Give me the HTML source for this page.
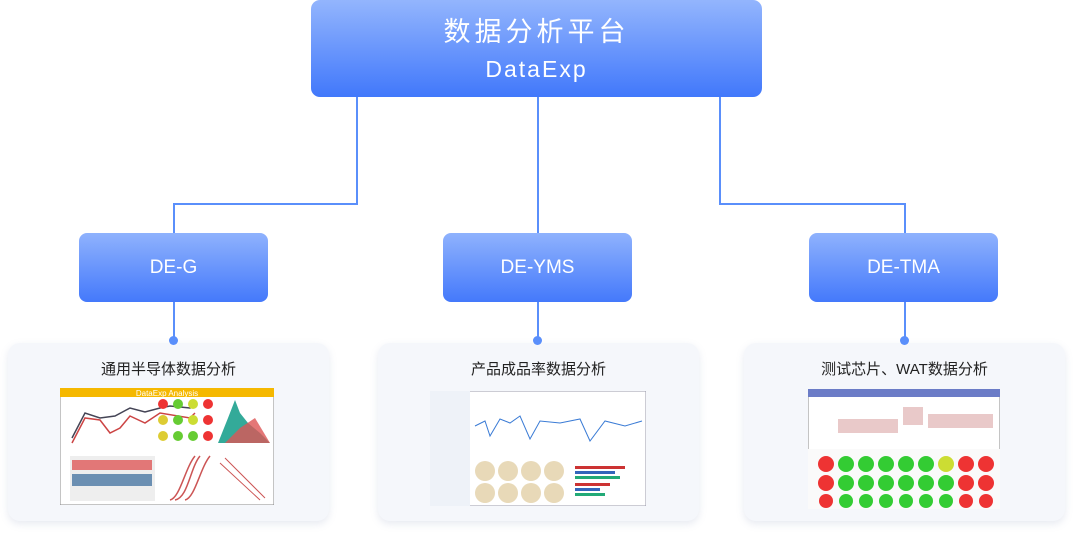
<!DOCTYPE html>
<html><head><meta charset="utf-8"><style>
body{margin:0;width:1073px;height:534px;background:#fff;position:relative;overflow:hidden;font-family:"Liberation Sans","Noto Sans CJK SC",sans-serif}
.top{position:absolute;left:311px;top:0;width:451px;height:97px;border-radius:9px;background:linear-gradient(#93b5fd,#4178fb);color:#fff;text-align:center}
.top .a{font-size:27px;letter-spacing:4px;margin-top:15px;line-height:34px}
.top .b{font-size:23px;letter-spacing:2px;margin-top:6px;line-height:28px}
.ln{position:absolute;background:#5a8ffb}
.sub{position:absolute;top:233px;width:189px;height:69px;border-radius:8px;background:linear-gradient(#8fb2fd,#4479fb);color:#fff;font-size:19px;line-height:69px;text-align:center}
.dot{position:absolute;width:9px;height:9px;border-radius:50%;background:#5a8ffb;top:336px}
.card{position:absolute;top:343px;width:321px;height:178px;border-radius:12px;background:#f5f7fb;box-shadow:0 3px 8px rgba(120,140,180,.18)}
.card .t{text-align:center;font-size:15px;color:#222;margin-top:17px;line-height:20px}
.img{position:absolute}
</style></head><body>
<div class="top"><div class="a">数据分析平台</div><div class="b">DataExp</div></div>
<div class="ln" style="left:356px;top:97px;width:2px;height:108px"></div>
<div class="ln" style="left:173px;top:203px;width:185px;height:2px"></div>
<div class="ln" style="left:173px;top:203px;width:2px;height:30px"></div>
<div class="ln" style="left:537px;top:97px;width:2px;height:136px"></div>
<div class="ln" style="left:719px;top:97px;width:2px;height:108px"></div>
<div class="ln" style="left:719px;top:203px;width:187px;height:2px"></div>
<div class="ln" style="left:904px;top:203px;width:2px;height:30px"></div>
<div class="sub" style="left:79px">DE-G</div>
<div class="sub" style="left:443px">DE-YMS</div>
<div class="sub" style="left:809px">DE-TMA</div>
<div class="ln" style="left:173px;top:302px;width:2px;height:36px"></div>
<div class="ln" style="left:537px;top:302px;width:2px;height:36px"></div>
<div class="ln" style="left:904px;top:302px;width:2px;height:36px"></div>
<div class="card" style="left:8px"><div class="t">通用半导体数据分析</div></div>
<div class="card" style="left:378px"><div class="t">产品成品率数据分析</div></div>
<div class="card" style="left:744px"><div class="t">测试芯片、WAT数据分析</div></div>
<div class="dot" style="left:169px"></div><div class="dot" style="left:533px"></div><div class="dot" style="left:900px"></div>
<svg class="img" style="left:60px;top:388px" width="214" height="117">
<rect width="214" height="117" fill="#fff" stroke="#888"/><rect width="214" height="9" fill="#f5b800"/>
<text x="107" y="8" font-size="8" fill="#fff" text-anchor="middle" font-family="Liberation Sans">DataExp Analysis</text>
<polyline points="12,50 25,25 40,30 55,28 70,20 85,24 100,20 110,18 130,20 135,18" fill="none" stroke="#445" stroke-width="1.5"/>
<polyline points="12,55 25,30 40,32 50,45 60,40 70,28 85,35 100,25 130,30 135,25" fill="none" stroke="#c44" stroke-width="1.5"/>
<g fill="#6c3"><circle cx="103" cy="16" r="5" fill="#e33"/><circle cx="118" cy="16" r="5"/><circle cx="133" cy="16" r="5" fill="#cd3"/><circle cx="148" cy="16" r="5" fill="#e33"/>
<circle cx="103" cy="32" r="5" fill="#dc3"/><circle cx="118" cy="32" r="5"/><circle cx="133" cy="32" r="5" fill="#cd3"/><circle cx="148" cy="32" r="5" fill="#e33"/>
<circle cx="103" cy="48" r="5" fill="#dc3"/><circle cx="118" cy="48" r="5"/><circle cx="133" cy="48" r="5"/><circle cx="148" cy="48" r="5" fill="#e33"/></g>
<polygon points="158,55 168,30 175,12 180,25 188,35 200,45 210,55" fill="#3a9"/>
<polygon points="165,55 180,40 195,30 210,55" fill="#d55" opacity=".8"/>
<rect x="10" y="68" width="85" height="45" fill="#eee"/><rect x="12" y="72" width="80" height="10" fill="#d44" opacity=".7"/><rect x="12" y="86" width="80" height="12" fill="#369" opacity=".7"/>
<path d="M110,112 C120,110 125,80 135,68 M115,112 C128,110 130,80 140,68 M125,112 C135,110 140,80 150,68" fill="none" stroke="#c55" stroke-width="1.5"/>
<path d="M165,70 L205,110 M160,75 L200,112" stroke="#c55"/>
</svg>
<svg class="img" style="left:430px;top:391px" width="216" height="115">
<rect width="216" height="115" fill="#fff" stroke="#99a"/><rect width="40" height="115" fill="#eef2f8"/>
<polyline points="45,35 55,30 60,45 70,28 80,32 90,25 100,48 110,30 130,32 150,28 160,50 175,30 195,35 212,30" fill="none" stroke="#3a7bd5"/>
<g fill="#e8d9b8"><circle cx="55" cy="80" r="10"/><circle cx="78" cy="80" r="10"/><circle cx="101" cy="80" r="10"/><circle cx="124" cy="80" r="10"/><circle cx="55" cy="102" r="10"/><circle cx="78" cy="102" r="10"/><circle cx="101" cy="102" r="10"/><circle cx="124" cy="102" r="10"/></g>
<g><rect x="145" y="75" width="50" height="3" fill="#c33"/><rect x="145" y="80" width="40" height="3" fill="#36b"/><rect x="145" y="85" width="45" height="3" fill="#2a7"/><rect x="145" y="92" width="35" height="3" fill="#c33"/><rect x="145" y="97" width="25" height="3" fill="#36b"/><rect x="145" y="102" width="30" height="3" fill="#2a7"/></g>
</svg>
<svg class="img" style="left:808px;top:389px" width="192" height="120">
<rect width="192" height="120" fill="#fff" stroke="#888"/><rect width="192" height="8" fill="#6b7cc7"/>
<g fill="#e9c9c9"><rect x="30" y="30" width="60" height="14"/><rect x="95" y="18" width="20" height="18"/><rect x="120" y="25" width="65" height="14"/></g>
<rect y="60" width="192" height="60" fill="#fafafa"/>
<g fill="#3c3"><circle cx="18" cy="75" r="8" fill="#e33"/><circle cx="38" cy="75" r="8"/><circle cx="58" cy="75" r="8"/><circle cx="78" cy="75" r="8"/><circle cx="98" cy="75" r="8"/><circle cx="118" cy="75" r="8"/><circle cx="138" cy="75" r="8" fill="#cd3"/><circle cx="158" cy="75" r="8" fill="#e33"/><circle cx="178" cy="75" r="8" fill="#e33"/>
<circle cx="18" cy="94" r="8" fill="#e33"/><circle cx="38" cy="94" r="8"/><circle cx="58" cy="94" r="8"/><circle cx="78" cy="94" r="8"/><circle cx="98" cy="94" r="8"/><circle cx="118" cy="94" r="8"/><circle cx="138" cy="94" r="8"/><circle cx="158" cy="94" r="8" fill="#e33"/><circle cx="178" cy="94" r="8" fill="#e33"/>
<circle cx="18" cy="112" r="7" fill="#e33"/><circle cx="38" cy="112" r="7"/><circle cx="58" cy="112" r="7"/><circle cx="78" cy="112" r="7"/><circle cx="98" cy="112" r="7"/><circle cx="118" cy="112" r="7"/><circle cx="138" cy="112" r="7"/><circle cx="158" cy="112" r="7" fill="#e33"/><circle cx="178" cy="112" r="7" fill="#e33"/></g>
</svg>
</body></html>
